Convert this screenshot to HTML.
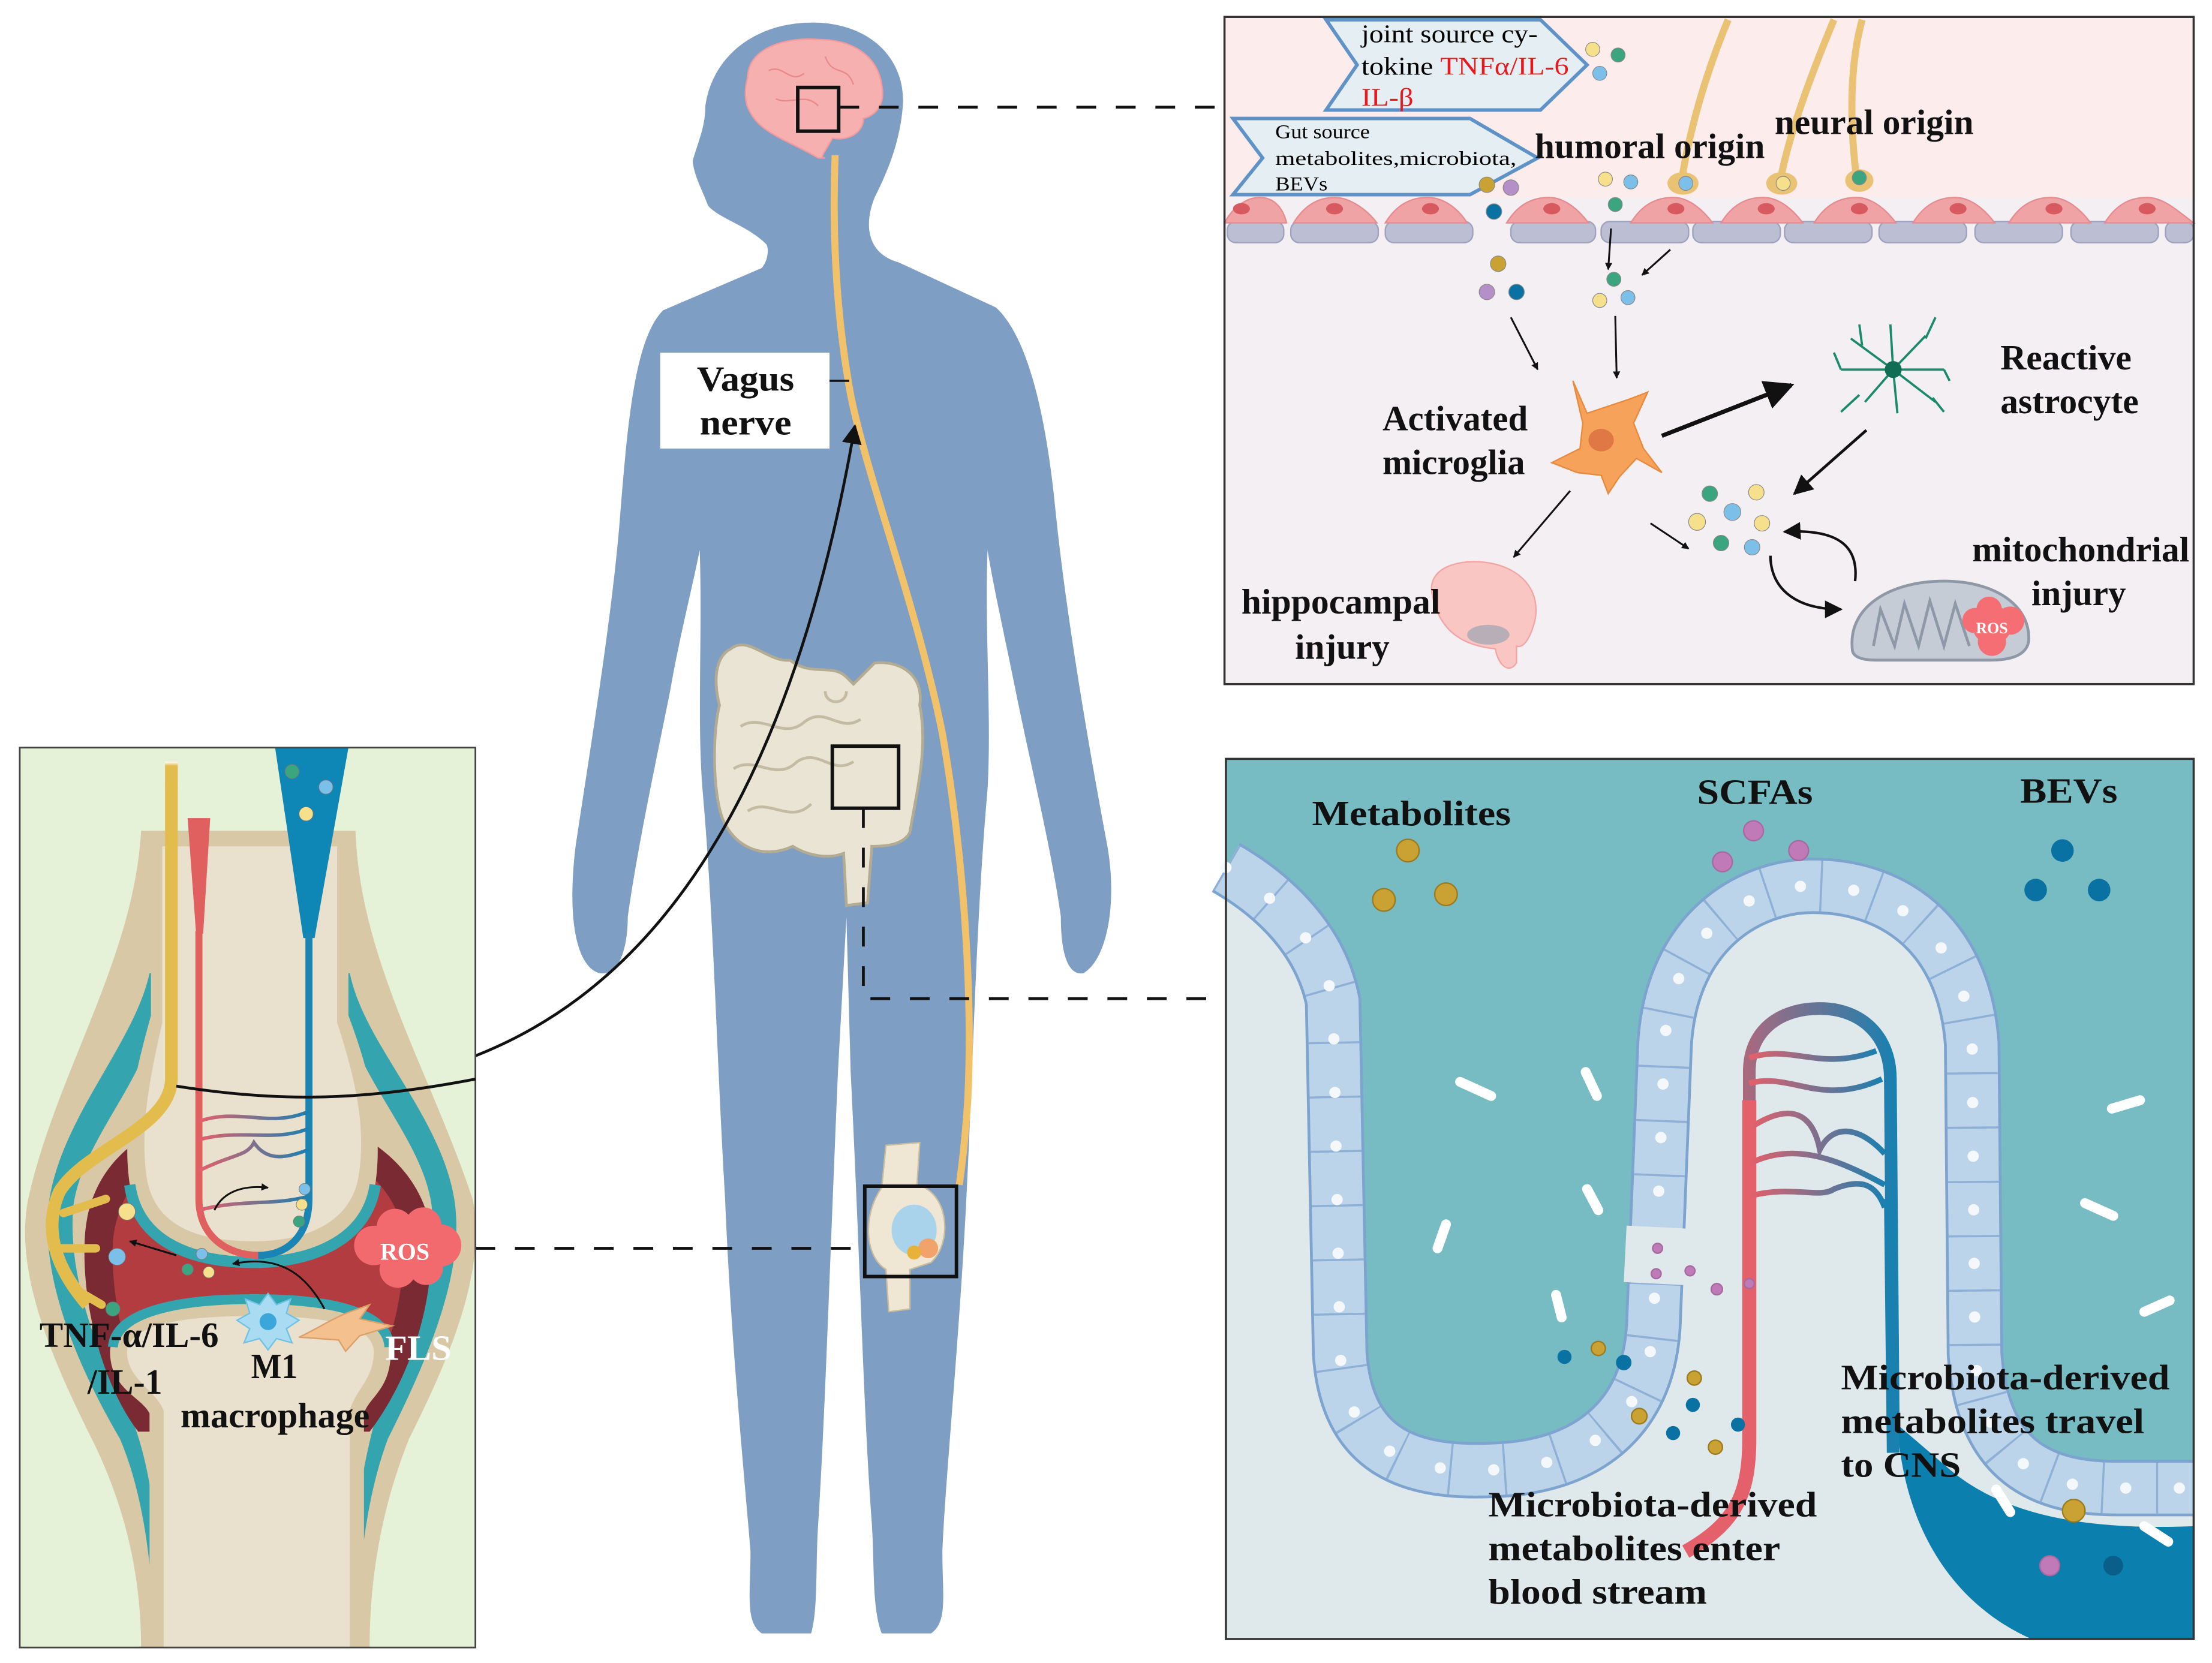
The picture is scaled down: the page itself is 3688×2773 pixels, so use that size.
<!DOCTYPE html>
<html><head><meta charset="utf-8"><style>
html,body{margin:0;padding:0;background:#fff}
svg{display:block}
text{font-family:"Liberation Serif","Times New Roman",serif}
.b{font-weight:bold;font-size:25px;fill:#111}
</style></head><body>
<svg width="3688" height="2773" viewBox="0 0 1568 1179" preserveAspectRatio="none" xmlns="http://www.w3.org/2000/svg" xmlns:xlink="http://www.w3.org/1999/xlink" font-family="Liberation Serif, Times New Roman, serif">
<defs>
<marker id="ah" viewBox="0 0 10 10" refX="9" refY="5" markerWidth="7" markerHeight="7" orient="auto"><path d="M0,0 L10,5 L0,10 Z" fill="#111"/></marker>
<marker id="ah2" viewBox="0 0 10 10" refX="9" refY="5" markerWidth="4" markerHeight="4" orient="auto"><path d="M0,0 L10,5 L0,10 Z" fill="#111"/></marker>
<linearGradient id="vg" x1="0" y1="0" x2="1" y2="0"><stop offset="0" stop-color="#e4606a"/><stop offset="1" stop-color="#1a80b0"/></linearGradient>
<linearGradient id="ng" x1="0" y1="0" x2="0" y2="1"><stop offset="0" stop-color="#fff"/><stop offset="0.15" stop-color="#e3bc4e"/></linearGradient>
<path id="epi" d="M869,615 C895,630 935,660 945,710 L950,960 C955,1030 1000,1045 1060,1042 C1120,1040 1168,1010 1172,940 L1180,740 C1185,660 1240,628 1285,628 C1340,628 1392,660 1398,740 L1400,960 C1405,1030 1440,1055 1500,1055 L1555,1055" fill="none"/>
</defs>
<rect width="1568" height="1179" fill="#fff"/>

<!-- HUMAN -->
<path d="M576,16 C615,16 642,40 640,75 C638,100 630,120 620,140 C612,160 615,180 637,186 L706,218 C730,240 742,300 748,360 C755,430 770,520 785,600 C792,640 785,680 768,690 C755,692 752,670 752,650 C745,600 730,540 720,490 C712,450 705,420 700,390 C698,450 703,510 700,560 C692,650 690,750 685,850 C680,950 670,1050 668,1100 C668,1130 672,1150 660,1158 L625,1158 C618,1140 620,1110 618,1080 C612,1000 610,900 603,760 L600,650 L594,760 C588,900 585,1000 580,1080 C578,1110 580,1140 575,1158 L540,1158 C528,1150 532,1130 532,1100 C528,1050 518,950 514,850 C508,750 506,650 498,560 C494,510 498,450 496,390 C490,420 482,450 475,490 C465,540 452,600 445,650 C445,670 440,692 425,690 C408,685 402,650 408,600 C420,520 435,430 440,360 C445,300 450,240 470,220 L540,190 C545,184 545,175 543,173 C530,160 510,155 502,146 C498,135 492,125 491,114 C495,100 500,90 500,75 C505,40 535,16 576,16 Z" fill="#7f9ec3"/>
<path d="M530,55 C530,35 555,26 580,28 C605,28 622,40 625,60 C628,75 620,82 612,84 C612,95 600,100 590,98 C585,108 580,112 585,112 L580,112 C560,100 540,95 532,80 C527,72 528,62 530,55 Z" fill="#f7b0b0" stroke="#f39a9a"/>
<path d="M545,50 C555,45 560,60 570,52 M585,40 C590,55 600,45 605,60 M550,70 C560,75 570,65 580,75" stroke="#e98a8a" fill="none" stroke-width="1"/>
<rect x="565.5" y="62" width="29" height="31" fill="none" stroke="#111" stroke-width="2.5"/>
<path d="M592,110 C590,160 592,220 603,280 C615,340 650,430 668,520 C682,600 690,700 686,780 C684,810 682,825 680,840" stroke="#f1c26a" stroke-width="5" fill="none"/>
<rect x="468" y="250" width="120" height="68" fill="#fff"/>
<line x1="588" y1="270" x2="602" y2="270" stroke="#111" stroke-width="1.5"/>
<text class="b" x="494" y="277" textLength="69" lengthAdjust="spacingAndGlyphs">Vagus</text>
<text class="b" x="496" y="308" textLength="65" lengthAdjust="spacingAndGlyphs">nerve</text>
<path d="M518,460 C530,450 545,470 560,468 C575,480 590,470 600,480 L605,485 L620,470 C640,468 655,480 652,500 C658,530 650,560 645,590 C640,600 625,600 618,600 L615,640 L600,642 L598,605 C585,610 570,605 562,600 C540,610 520,600 512,580 C505,560 505,520 510,500 C505,480 508,465 518,460 Z" fill="#e9e4d4" stroke="#b3ab92" stroke-width="2"/>
<path d="M525,515 C540,505 555,525 570,512 C585,500 595,520 610,510 M520,545 C535,535 550,555 565,540 C580,530 590,550 605,540 M530,575 C545,565 560,585 575,570 M585,490 C585,500 600,500 600,490" stroke="#c3bba2" stroke-width="2" fill="none"/>
<rect x="590" y="529" width="47" height="44" fill="none" stroke="#111" stroke-width="2.5"/>
<path d="M628,812 L652,810 L650,840 C672,845 676,880 660,895 L645,900 L645,928 L630,930 L628,900 C612,890 612,860 625,842 Z" fill="#efe6d3" stroke="#c9bd9d"/>
<ellipse cx="648" cy="872" rx="16" ry="18" fill="#a9d3ea"/>
<circle cx="658" cy="885" r="7" fill="#f2a36b"/><circle cx="648" cy="888" r="5" fill="#e8b23a"/>
<rect x="613" y="841" width="65" height="64" fill="none" stroke="#111" stroke-width="2.5"/>

<path d="M595,76 L868,76" stroke="#111" stroke-width="2" stroke-dasharray="14,14" fill="none"/>
<path d="M612,573 L612,708 L868,708" stroke="#111" stroke-width="2" stroke-dasharray="14,14" fill="none"/>
<path d="M337,885 L613,885" stroke="#111" stroke-width="2" stroke-dasharray="14,14" fill="none"/>
<path d="M125,770 C320,790 530,740 606,302" stroke="#111" stroke-width="2" fill="none" marker-end="url(#ah)"/>

<!-- TOP RIGHT PANEL -->
<rect x="868" y="12" width="687" height="128" fill="#fcecec"/>
<rect x="868" y="140" width="687" height="345" fill="#f3eff2"/>
<g fill="#bcbfd3" stroke="#9da2bd" stroke-width="1">
<rect x="870" y="157" width="40" height="15" rx="6"/><rect x="915" y="157" width="62" height="15" rx="6"/><rect x="982" y="157" width="62" height="15" rx="6"/><rect x="1071" y="157" width="60" height="15" rx="6"/><rect x="1135" y="157" width="62" height="15" rx="6"/><rect x="1200" y="157" width="62" height="15" rx="6"/><rect x="1265" y="157" width="62" height="15" rx="6"/><rect x="1332" y="157" width="62" height="15" rx="6"/><rect x="1400" y="157" width="62" height="15" rx="6"/><rect x="1468" y="157" width="62" height="15" rx="6"/><rect x="1535" y="157" width="20" height="15" rx="6"/>
</g>
<g fill="#f0a3a5" stroke="#e58c90" stroke-width="1">
<path d="M868,158 C875,145 885,140 893,140 C905,140 910,150 912,158 Z"/>
<path d="M917,158 C925,145 935,140 946,140 C958,140 970,150 976,158 Z"/>
<path d="M982,158 C990,145 1000,140 1012,140 C1025,140 1035,150 1040,158 Z"/>
<path d="M1068,158 C1076,145 1086,140 1098,140 C1110,140 1120,150 1126,158 Z"/>
<path d="M1156,158 C1164,145 1174,140 1186,140 C1198,140 1208,150 1214,158 Z"/>
<path d="M1220,158 C1228,145 1238,140 1250,140 C1262,140 1272,150 1278,158 Z"/>
<path d="M1286,158 C1294,145 1304,140 1316,140 C1328,140 1338,150 1344,158 Z"/>
<path d="M1356,158 C1364,145 1374,140 1386,140 C1398,140 1408,150 1414,158 Z"/>
<path d="M1424,158 C1432,145 1442,140 1454,140 C1466,140 1476,150 1482,158 Z"/>
<path d="M1492,158 C1500,145 1510,140 1522,140 C1534,140 1544,150 1555,158 Z"/>
</g>
<g fill="#d65a60"><ellipse cx="880" cy="148" rx="6" ry="4"/><ellipse cx="946" cy="148" rx="6" ry="4"/><ellipse cx="1014" cy="148" rx="6" ry="4"/><ellipse cx="1100" cy="148" rx="6" ry="4"/><ellipse cx="1188" cy="148" rx="6" ry="4"/><ellipse cx="1252" cy="148" rx="6" ry="4"/><ellipse cx="1318" cy="148" rx="6" ry="4"/><ellipse cx="1388" cy="148" rx="6" ry="4"/><ellipse cx="1456" cy="148" rx="6" ry="4"/><ellipse cx="1522" cy="148" rx="6" ry="4"/></g>
<g stroke="#e9c274" stroke-width="5" fill="none">
<path d="M1225,14 C1210,50 1198,90 1192,128"/>
<path d="M1300,14 C1285,50 1268,95 1262,128"/>
<path d="M1320,14 C1310,50 1312,95 1316,126"/>
</g>
<g fill="#e9c274"><ellipse cx="1193" cy="130" rx="11" ry="8"/><ellipse cx="1263" cy="130" rx="11" ry="8"/><ellipse cx="1318" cy="128" rx="10" ry="8"/></g>
<polygon points="940,14 1092,14 1125,46 1092,78 940,78 962,46" fill="#e5eff3" stroke="#5f93c8" stroke-width="2.5"/>
<text x="965" y="30" font-size="18" textLength="125" lengthAdjust="spacingAndGlyphs">joint source cy-</text>
<text x="965" y="53" font-size="18" textLength="147" lengthAdjust="spacingAndGlyphs">tokine <tspan fill="#e8191c">TNFα/IL-6</tspan></text>
<text x="965" y="75" font-size="18" fill="#e8191c" textLength="37" lengthAdjust="spacingAndGlyphs">IL-β</text>
<polygon points="874,84 1042,84 1090,112 1042,138 874,138 895,112" fill="#e5eff3" stroke="#5f93c8" stroke-width="2.5"/>
<text x="904" y="98" font-size="14" textLength="67" lengthAdjust="spacingAndGlyphs">Gut source</text>
<text x="904" y="117" font-size="14" textLength="171" lengthAdjust="spacingAndGlyphs">metabolites,microbiota,</text>
<text x="904" y="135" font-size="14" textLength="37" lengthAdjust="spacingAndGlyphs">BEVs</text>
<g stroke="#888" stroke-width="0.5">
<circle cx="1129" cy="35" r="5" fill="#f6e08c"/><circle cx="1147" cy="39" r="5" fill="#3aa57e"/><circle cx="1134" cy="52" r="5" fill="#7cc0ea"/>
<circle cx="1054" cy="131" r="5.5" fill="#c9a233"/><circle cx="1071" cy="133" r="5.5" fill="#b590c8"/><circle cx="1059" cy="150" r="5.5" fill="#0a72a3"/>
<circle cx="1138" cy="127" r="5" fill="#f6e08c"/><circle cx="1156" cy="129" r="5" fill="#7cc0ea"/><circle cx="1145" cy="145" r="5" fill="#3aa57e"/>
<circle cx="1195" cy="130" r="5" fill="#7cc0ea"/><circle cx="1264" cy="130" r="5" fill="#f6e08c"/><circle cx="1318" cy="126" r="5" fill="#3aa57e"/>
<circle cx="1062" cy="187" r="5.5" fill="#c9a233"/><circle cx="1054" cy="207" r="5.5" fill="#b590c8"/><circle cx="1075" cy="207" r="5.5" fill="#0a72a3"/>
<circle cx="1144" cy="198" r="5" fill="#3aa57e"/><circle cx="1134" cy="213" r="5" fill="#f6e08c"/><circle cx="1154" cy="211" r="5" fill="#7cc0ea"/>
<circle cx="1212" cy="350" r="5.5" fill="#3aa57e"/><circle cx="1245" cy="349" r="5.5" fill="#f6e08c"/><circle cx="1203" cy="370" r="6" fill="#f6e08c"/><circle cx="1228" cy="363" r="6" fill="#7cc0ea"/><circle cx="1249" cy="371" r="5.5" fill="#f6e08c"/><circle cx="1220" cy="385" r="5.5" fill="#3aa57e"/><circle cx="1242" cy="388" r="5.5" fill="#7cc0ea"/>
</g>
<g stroke="#111" stroke-width="1.3" fill="none" marker-end="url(#ah2)">
<path d="M1142,162 L1140,191"/><path d="M1184,177 L1164,195"/>
<path d="M1071,225 L1090,262"/><path d="M1145,224 L1146,268"/>
<path d="M1170,371 L1197,389"/>
<path d="M1113,348 L1073,395"/>
</g>
<path d="M1178,309 L1270,273" stroke="#111" stroke-width="3" fill="none" marker-end="url(#ah)"/>
<path d="M1323,305 L1272,350" stroke="#111" stroke-width="2" fill="none" marker-end="url(#ah)"/>
<path d="M1315,412 C1318,385 1300,375 1265,377" stroke="#111" stroke-width="1.8" fill="none" marker-end="url(#ah)"/>
<path d="M1255,394 C1255,415 1270,432 1305,432" stroke="#111" stroke-width="1.8" fill="none" marker-end="url(#ah)"/>
<path d="M1115,270 L1125,293 L1140,288 L1155,283 L1168,278 L1158,300 L1165,318 L1178,335 L1160,325 L1148,338 L1140,350 L1135,337 L1118,335 L1100,328 L1120,318 L1122,300 Z" fill="#f6a25a" stroke="#e88a3e"/>
<ellipse cx="1135" cy="312" rx="9" ry="8" fill="#e07845"/>
<g stroke="#1a8a6a" stroke-width="1.6" fill="none">
<path d="M1342,262 L1312,240 M1342,262 L1322,285 M1342,262 L1365,238 M1342,262 L1372,285 M1342,262 L1340,230 M1342,262 L1345,293 M1342,262 L1305,262 M1342,262 L1378,262 M1320,245 L1318,230 M1365,240 L1372,225 M1370,282 L1378,292 M1318,280 L1305,292 M1305,262 L1300,250 M1378,262 L1382,270"/>
</g>
<circle cx="1342" cy="262" r="6" fill="#116e55"/>
<path d="M1015,420 C1012,400 1040,395 1060,400 C1080,405 1092,420 1088,440 C1085,452 1080,460 1075,458 L1075,470 C1070,478 1062,472 1060,460 C1040,458 1020,450 1015,420 Z" fill="#f9c6c4" stroke="#f1a5a5"/>
<ellipse cx="1055" cy="450" rx="15" ry="7" fill="#a8a8b4" opacity="0.8"/>
<path d="M1313,460 C1310,430 1340,412 1378,412 C1415,412 1440,430 1438,455 C1436,465 1425,468 1410,468 L1330,468 C1318,468 1313,465 1313,460 Z" fill="#c6ccd5" stroke="#8f98a6" stroke-width="2"/>
<path d="M1328,458 L1333,432 L1343,458 L1350,428 L1360,458 L1368,426 L1378,458 L1386,428 L1396,458" stroke="#8f98a6" stroke-width="2" fill="none"/>
<g fill="#f46e73"><circle cx="1412" cy="443" r="14"/><circle cx="1400" cy="440" r="9"/><circle cx="1425" cy="440" r="10"/><circle cx="1412" cy="455" r="10"/><circle cx="1410" cy="432" r="9"/></g>
<text x="1412" y="449" font-size="11" fill="#fff" text-anchor="middle" font-weight="bold">ROS</text>
<text class="b" x="1088" y="112" textLength="163" lengthAdjust="spacingAndGlyphs">humoral origin</text>
<text class="b" x="1258" y="95" textLength="141" lengthAdjust="spacingAndGlyphs">neural origin</text>
<text class="b" x="980" y="305" textLength="103" lengthAdjust="spacingAndGlyphs">Activated</text>
<text class="b" x="980" y="336" textLength="101" lengthAdjust="spacingAndGlyphs">microglia</text>
<text class="b" x="1418" y="262" textLength="93" lengthAdjust="spacingAndGlyphs">Reactive</text>
<text class="b" x="1418" y="293" textLength="98" lengthAdjust="spacingAndGlyphs">astrocyte</text>
<text class="b" x="880" y="435" textLength="141" lengthAdjust="spacingAndGlyphs">hippocampal</text>
<text class="b" x="918" y="467" textLength="67" lengthAdjust="spacingAndGlyphs">injury</text>
<text class="b" x="1398" y="398" textLength="154" lengthAdjust="spacingAndGlyphs">mitochondrial</text>
<text class="b" x="1440" y="429" textLength="67" lengthAdjust="spacingAndGlyphs">injury</text>
<rect x="868" y="12" width="687" height="473" fill="none" stroke="#333" stroke-width="1.5"/>

<!-- BOTTOM RIGHT PANEL -->
<rect x="869" y="538" width="686" height="624" fill="#dfe9ec"/>
<path d="M869,615 C895,630 935,660 945,710 L950,960 C955,1030 1000,1045 1060,1042 C1120,1040 1168,1010 1172,940 L1180,740 C1185,660 1240,628 1285,628 C1340,628 1392,660 1398,740 L1400,960 C1405,1030 1440,1055 1500,1055 L1555,1055 L1555,538 L869,538 Z" fill="#76bcc2"/>
<path d="M1345,1010 C1350,1090 1390,1140 1440,1162 L1555,1162 L1555,1082 C1480,1085 1420,1075 1380,1040 Z" fill="#0b7fae"/>
<use xlink:href="#epi" href="#epi" stroke="#7da4cf" stroke-width="40"/>
<use xlink:href="#epi" href="#epi" stroke="#bcd4e9" stroke-width="36"/>
<use xlink:href="#epi" href="#epi" stroke="#8fb0d6" stroke-width="36" stroke-dasharray="1.5,37"/>
<use xlink:href="#epi" href="#epi" stroke="#f4f8fb" stroke-width="8" stroke-linecap="round" stroke-dasharray="0,38"/>
<path d="M1175,870 L1173,910" stroke="#dfe9ec" stroke-width="44"/>
<path d="M1195,1100 C1230,1080 1240,1060 1240,1020 L1240,760 C1240,730 1262,715 1290,715 C1320,715 1340,735 1340,765 L1342,1005" stroke="url(#vg)" stroke-width="9" fill="none"/>
<path d="M1195,1100 C1230,1080 1240,1060 1240,1020 L1240,780" stroke="#e4606a" stroke-width="10" fill="none"/>
<path d="M1340,850 L1342,1030" stroke="#1a80b0" stroke-width="9" fill="none"/>
<g stroke="url(#vg)" stroke-width="4" fill="none">
<path d="M1240,750 C1270,740 1290,760 1330,745"/><path d="M1240,768 C1270,760 1290,785 1334,765"/>
<path d="M1240,800 C1270,780 1285,790 1290,815 C1300,795 1320,800 1336,818"/>
<path d="M1240,825 C1270,810 1300,820 1336,840"/><path d="M1240,848 C1270,840 1290,850 1300,843 C1320,835 1330,840 1336,856"/>
</g>
<g stroke="#fff" stroke-width="7" stroke-linecap="round">
<path d="M1035,767 L1057,777"/><path d="M1124,760 L1132,777"/><path d="M1125,843 L1133,858"/>
<path d="M1025,868 L1019,885"/><path d="M1103,918 L1107,934"/><path d="M1497,786 L1517,780"/>
<path d="M1478,853 L1498,862"/><path d="M1520,930 L1538,922"/><path d="M1415,1056 L1425,1072"/><path d="M1520,1082 L1537,1093"/>
</g>
<g fill="#c9a233" stroke="#9c7b20"><circle cx="998" cy="603" r="8"/><circle cx="981" cy="638" r="8"/><circle cx="1025" cy="634" r="8"/><circle cx="1133" cy="956" r="5"/><circle cx="1162" cy="1004" r="5.5"/><circle cx="1201" cy="977" r="5"/><circle cx="1216" cy="1026" r="5"/><circle cx="1470" cy="1071" r="8"/></g>
<g fill="#c07ab8" stroke="#a66aa0"><circle cx="1243" cy="589" r="7"/><circle cx="1221" cy="611" r="7"/><circle cx="1275" cy="603" r="7"/><circle cx="1175" cy="885" r="3.5"/><circle cx="1174" cy="903" r="3.5"/><circle cx="1198" cy="901" r="3.5"/><circle cx="1217" cy="914" r="4"/><circle cx="1240" cy="910" r="3.5"/><circle cx="1453" cy="1110" r="7"/></g>
<g fill="#0a72a3"><circle cx="1462" cy="603" r="8"/><circle cx="1443" cy="631" r="8"/><circle cx="1488" cy="631" r="8"/><circle cx="1109" cy="962" r="5"/><circle cx="1151" cy="966" r="5.5"/><circle cx="1200" cy="996" r="5"/><circle cx="1186" cy="1016" r="5"/><circle cx="1232" cy="1010" r="5"/><circle cx="1498" cy="1110" r="7" fill="#095f8a"/></g>
<text class="b" x="930" y="585" textLength="141" lengthAdjust="spacingAndGlyphs">Metabolites</text>
<text class="b" x="1203" y="570" textLength="82" lengthAdjust="spacingAndGlyphs">SCFAs</text>
<text class="b" x="1432" y="569" textLength="69" lengthAdjust="spacingAndGlyphs">BEVs</text>
<text class="b" x="1305" y="985" textLength="233" lengthAdjust="spacingAndGlyphs">Microbiota-derived</text>
<text class="b" x="1305" y="1016" textLength="215" lengthAdjust="spacingAndGlyphs">metabolites travel</text>
<text class="b" x="1305" y="1047" textLength="85" lengthAdjust="spacingAndGlyphs">to CNS</text>
<text class="b" x="1055" y="1075" textLength="233" lengthAdjust="spacingAndGlyphs">Microbiota-derived</text>
<text class="b" x="1055" y="1106" textLength="207" lengthAdjust="spacingAndGlyphs">metabolites enter</text>
<text class="b" x="1055" y="1137" textLength="155" lengthAdjust="spacingAndGlyphs">blood stream</text>
<rect x="869" y="538" width="686" height="624" fill="none" stroke="#333" stroke-width="1.5"/>

<!-- LEFT PANEL -->
<rect x="14" y="530" width="323" height="638" fill="#e6f2d7"/>
<path d="M100,589 L252,589 C255,680 305,760 335,850 C345,900 320,960 290,1020 C270,1070 262,1120 262,1168 L100,1168 C100,1120 90,1070 65,1020 C35,960 10,900 20,850 C40,760 95,680 100,589 Z" fill="#d8c8a6"/>
<path d="M106,690 C95,740 45,790 35,850 C28,900 50,960 85,1020 C102,1060 108,1110 110,1168 L252,1168 C254,1110 260,1060 275,1020 C305,960 330,900 322,850 C312,790 258,740 248,690 Z" fill="#34a5ae"/>
<path d="M112,720 C100,770 58,810 52,855 C48,900 65,955 95,1010 C110,1050 114,1110 116,1168 L246,1168 C248,1110 252,1060 265,1010 C292,955 310,900 306,855 C300,810 258,770 244,720 Z" fill="#d8c8a6"/>
<path d="M60,880 C62,820 110,790 170,786 C235,784 295,815 305,870 C310,930 285,985 262,1015 L98,1015 C75,985 58,930 60,880 Z" fill="#7a2a32"/>
<path d="M80,880 C85,830 125,805 175,803 C225,802 275,828 285,870 C290,925 270,975 250,1000 L110,1000 C92,975 78,925 80,880 Z" fill="#b23c40"/>
<path d="M107,589 L247,589 L247,720 C262,760 272,800 266,840 C260,878 220,893 180,893 C140,893 98,883 92,840 C86,800 96,760 107,720 Z" fill="#d8c8a6"/>
<path d="M115,600 L239,600 L239,725 C252,765 260,800 254,835 C248,868 215,880 180,880 C145,880 110,872 104,835 C99,800 106,765 115,725 Z" fill="#e9e0cd"/>
<path d="M92,840 C98,883 140,895 180,895 C220,895 260,880 266,840" stroke="#34a5ae" stroke-width="8" fill="none"/>
<path d="M78,958 C80,933 120,923 180,923 C240,923 276,933 277,958 C277,985 262,990 258,1002 L258,1168 L106,1168 L106,1002 C100,990 78,985 78,958 Z" fill="#d8c8a6"/>
<path d="M90,958 C92,940 125,933 180,933 C235,933 264,940 265,958 C265,978 252,985 248,1000 L248,1168 L116,1168 L116,1000 C110,985 90,978 90,958 Z" fill="#e9e0cd"/>
<path d="M80,955 C82,932 120,921 180,921 C240,921 275,932 276,955" stroke="#34a5ae" stroke-width="7" fill="none"/>
<polygon points="133,580 149,580 144,662 139,662" fill="#e06060"/>
<polygon points="195,530 247,530 223,665 215,665" fill="#0e86b6"/>
<path d="M141,660 L141,850 C141,878 163,890 183,890" stroke="#e06060" stroke-width="5" fill="none"/>
<path d="M219,662 L219,850 C219,878 202,890 183,890" stroke="#1a85b5" stroke-width="5" fill="none"/>
<g stroke="url(#vg)" stroke-width="2.5" fill="none">
<path d="M141,795 C170,785 190,800 219,788"/><path d="M141,808 C170,800 195,810 219,800"/><path d="M141,830 C165,818 175,820 180,810 C190,825 205,820 219,815"/><path d="M141,858 C170,850 195,855 219,848"/>
</g>
<rect x="117" y="540" width="9" height="20" fill="url(#ng)"/>
<path d="M121.5,555 L121.5,765 C121,800 60,815 42,845 C32,868 36,895 62,925" stroke="#e3bc4e" stroke-width="9" fill="none"/>
<g stroke="#e3bc4e" stroke-width="6" stroke-linecap="round"><path d="M45,860 L75,850"/><path d="M40,885 L68,885"/><path d="M55,915 L72,925"/></g>
<g stroke="#777" stroke-width="0.4">
<circle cx="207" cy="547" r="5" fill="#3aa57e"/><circle cx="231" cy="558" r="5" fill="#7cc0ea"/><circle cx="217" cy="577" r="5" fill="#f6e08c"/>
<circle cx="90" cy="859" r="6" fill="#f6e08c"/><circle cx="83" cy="891" r="6" fill="#7cc0ea"/><circle cx="80" cy="928" r="5" fill="#3aa57e"/>
<circle cx="143" cy="889" r="4" fill="#7cc0ea"/><circle cx="133" cy="900" r="4" fill="#3aa57e"/><circle cx="148" cy="902" r="4" fill="#f6e08c"/>
<circle cx="216" cy="843" r="4" fill="#7cc0ea"/><circle cx="214" cy="854" r="4" fill="#f6e08c"/><circle cx="212" cy="866" r="4" fill="#3aa57e"/>
</g>
<g fill="#f26a6e"><circle cx="288" cy="885" r="20"/><circle cx="265" cy="883" r="14"/><circle cx="312" cy="883" r="15"/><circle cx="280" cy="870" r="13"/><circle cx="300" cy="869" r="13"/><circle cx="282" cy="900" r="13"/><circle cx="302" cy="899" r="12"/></g>
<text x="287" y="893" font-size="17" fill="#fff" font-weight="bold" text-anchor="middle">ROS</text>
<path d="M190,917 L196,925 L206,921 L203,931 L212,936 L203,942 L207,952 L196,949 L190,957 L184,949 L173,952 L177,942 L168,936 L177,931 L174,921 L184,925 Z" fill="#a9dcf2" stroke="#6ec2e6"/>
<circle cx="190" cy="937" r="6" fill="#3aa6d9"/>
<path d="M212,948 C225,942 235,935 248,930 L262,925 L255,935 L278,940 L255,947 L245,958 L240,950 Z" fill="#f3c08e" stroke="#dba06a"/>
<g stroke="#111" stroke-width="1.3" fill="none" marker-end="url(#ah2)">
<path d="M152,858 C158,845 172,840 190,842"/>
<path d="M230,928 C215,900 195,890 165,896"/>
<path d="M125,890 L92,880"/>
</g>
<text class="b" x="28" y="955" textLength="127" lengthAdjust="spacingAndGlyphs">TNF-α/IL-6</text>
<text class="b" x="62" y="988" textLength="53" lengthAdjust="spacingAndGlyphs">/IL-1</text>
<text class="b" x="178" y="977" textLength="33" lengthAdjust="spacingAndGlyphs">M1</text>
<text class="b" x="128" y="1012" textLength="134" lengthAdjust="spacingAndGlyphs">macrophage</text>
<text class="b" x="273" y="964" textLength="47" lengthAdjust="spacingAndGlyphs" style="fill:#fff">FLS</text>
<rect x="14" y="530" width="323" height="638" fill="none" stroke="#444" stroke-width="1.2"/>
<path d="M125,770 C200,782 260,780 337,765" stroke="#111" stroke-width="2" fill="none"/>
</svg>
</body></html>
